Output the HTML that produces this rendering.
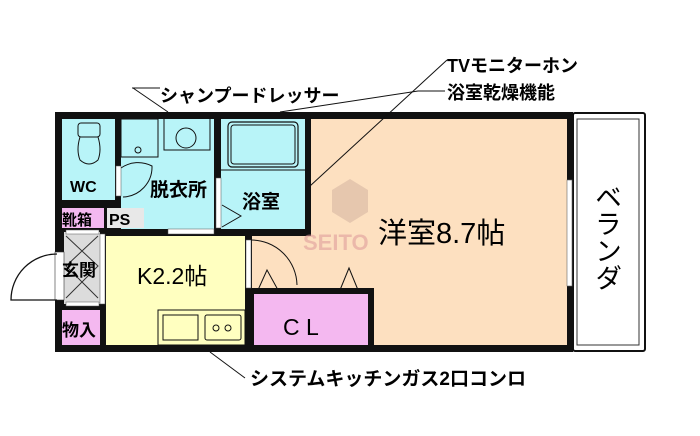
<!DOCTYPE html>
<html><head><meta charset="utf-8"><style>
html,body{margin:0;padding:0;background:#fff;width:700px;height:436px;overflow:hidden}
text{font-family:"Liberation Sans","Noto Sans CJK JP",sans-serif}
</style></head><body>
<svg width="700" height="436" viewBox="0 0 700 436" xmlns="http://www.w3.org/2000/svg">
<rect x="55" y="112" width="518" height="240" fill="#111"/>
<rect x="62" y="119" width="53" height="81" fill="#b8f4f8"/>
<rect x="121" y="119" width="93" height="110" fill="#b8f4f8"/>
<rect x="221" y="119" width="84" height="110" fill="#b8f4f8"/>
<rect x="311" y="119" width="256" height="226" fill="#fde0c0"/>
<rect x="62" y="208" width="42" height="20" fill="#f4b8f0"/>
<rect x="107" y="208" width="37" height="20" fill="#e8e8e8"/>
<rect x="150" y="208" width="64" height="21" fill="#b8f4f8"/>
<rect x="64" y="232" width="36" height="72" fill="#dcdcdc"/>
<rect x="62" y="310" width="38" height="35" fill="#f4b8f0"/>
<rect x="106" y="236" width="139" height="109" fill="#ffffc0"/>
<rect x="252" y="236" width="59" height="54" fill="#fde0c0"/>
<rect x="254" y="294" width="114" height="51" fill="#f4b8f0"/>
<rect x="368" y="288" width="6" height="57" fill="#111"/>
<rect x="248" y="288" width="126" height="6" fill="#111"/>
<rect x="573" y="113" width="72" height="238" fill="#fff" stroke="#111" stroke-width="2" rx="2"/>
<rect x="577" y="119" width="62" height="226" fill="#fff" stroke="#333" stroke-width="1"/>
<rect x="567" y="180" width="5" height="106" fill="#fff" stroke="#666" stroke-width="0.6"/>
<rect x="55" y="252" width="9" height="48" fill="#fff" stroke="#333" stroke-width="0.6"/>
<path d="M57 300 L11 300 A46 46 0 0 1 57 254" fill="none" stroke="#111" stroke-width="1.3"/>
<path d="M66 236 L98 266 L66 298 M98 236 L66 266 L98 298" fill="none" stroke="#333" stroke-width="1"/>
<rect x="66" y="230" width="33" height="4" fill="#fff" stroke="#555" stroke-width="0.5"/>
<rect x="66" y="302" width="33" height="4" fill="#fff" stroke="#555" stroke-width="0.5"/>
<rect x="100" y="234" width="5" height="70" fill="#fff" stroke="#555" stroke-width="0.5"/>
<rect x="78" y="123" width="22" height="14" rx="3" fill="none" stroke="#111"/>
<path d="M80 137 Q76 150 80 160 Q89 168 98 160 Q102 150 98 137" fill="none" stroke="#111"/>
<rect x="121" y="119" width="37" height="38" fill="none" stroke="#111"/>
<circle cx="138" cy="150" r="3" fill="none" stroke="#111"/>
<path d="M164 119 L164 150 L210 150 L210 119" fill="none" stroke="#111"/>
<circle cx="186" cy="138" r="10" fill="none" stroke="#111"/>
<path d="M121 168 A30 30 0 0 1 152 166 A30 30 0 0 1 123 197" fill="none" stroke="#111"/>
<rect x="116" y="166" width="5" height="30" fill="#fff" stroke="#555" stroke-width="0.5"/>
<rect x="228" y="122" width="70" height="45" rx="4" fill="none" stroke="#111" stroke-width="1.2"/>
<rect x="231" y="125" width="64" height="39" rx="3" fill="none" stroke="#111"/>
<line x1="221" y1="170" x2="305" y2="170" stroke="#111"/>
<path d="M222 205 L241 216 L222 227" fill="none" stroke="#111"/>
<rect x="216" y="178" width="5" height="50" fill="#fff" stroke="#555" stroke-width="0.5"/>
<rect x="168" y="229" width="46" height="5" fill="#fff" stroke="#555" stroke-width="0.5"/>
<rect x="246" y="240" width="5" height="48" fill="#fff" stroke="#555" stroke-width="0.5"/>
<path d="M251 240 A46 46 0 0 1 297 285" fill="none" stroke="#111"/>
<path d="M258 290 L267 270 L278 290 M340 290 L349 268 L358 290" fill="none" stroke="#111"/>
<rect x="158" y="310" width="87" height="35" fill="none" stroke="#111"/>
<rect x="163" y="315" width="35" height="25" fill="none" stroke="#111"/>
<rect x="205" y="315" width="36" height="25" rx="2" fill="none" stroke="#111"/>
<circle cx="216" cy="328" r="3" fill="none" stroke="#111"/>
<circle cx="228" cy="328" r="3" fill="none" stroke="#111"/>
<path d="M332 190 L350 179 L368 190 L368 212 L350 223 L332 212 Z" fill="#c9a89a" opacity="0.45"/>
<text x="303" y="250" font-size="22" fill="#d99" opacity="0.55" font-weight="bold">SEITO</text>
<text x="70" y="192" font-size="16" font-weight="bold">WC</text>
<text x="150" y="196" font-size="19" font-weight="bold">脱衣所</text>
<text x="242" y="208" font-size="19" font-weight="bold">浴室</text>
<text x="62" y="225" font-size="15" font-weight="bold">靴箱</text>
<text x="109" y="225" font-size="16" font-weight="bold">PS</text>
<text x="62" y="276" font-size="17" font-weight="bold">玄関</text>
<text x="62" y="336" font-size="17" font-weight="bold">物入</text>
<text x="137" y="284" font-size="23">K2.2帖</text>
<text x="283" y="335" font-size="23">C L</text>
<text x="378" y="243" font-size="29">洋室8.7帖</text>
<text x="606" y="183" font-size="27" writing-mode="tb">ベランダ</text>
<text x="160" y="102" font-size="18" font-weight="bold">シャンプードレッサー</text>
<text x="447" y="72" font-size="18" font-weight="bold">TVモニターホン</text>
<text x="447" y="99" font-size="18" font-weight="bold">浴室乾燥機能</text>
<text x="250" y="385" font-size="19" font-weight="bold">システムキッチンガス2口コンロ</text>
<path d="M132 88 L160 88 M133 88 L168 112" stroke="#111" fill="none"/>
<path d="M445 91 L418 91 L280 112" stroke="#111" fill="none"/>
<path d="M447 60 L310 186" stroke="#111" fill="none"/>
<path d="M210 352 L245 378" stroke="#111" fill="none"/>
</svg>
</body></html>
